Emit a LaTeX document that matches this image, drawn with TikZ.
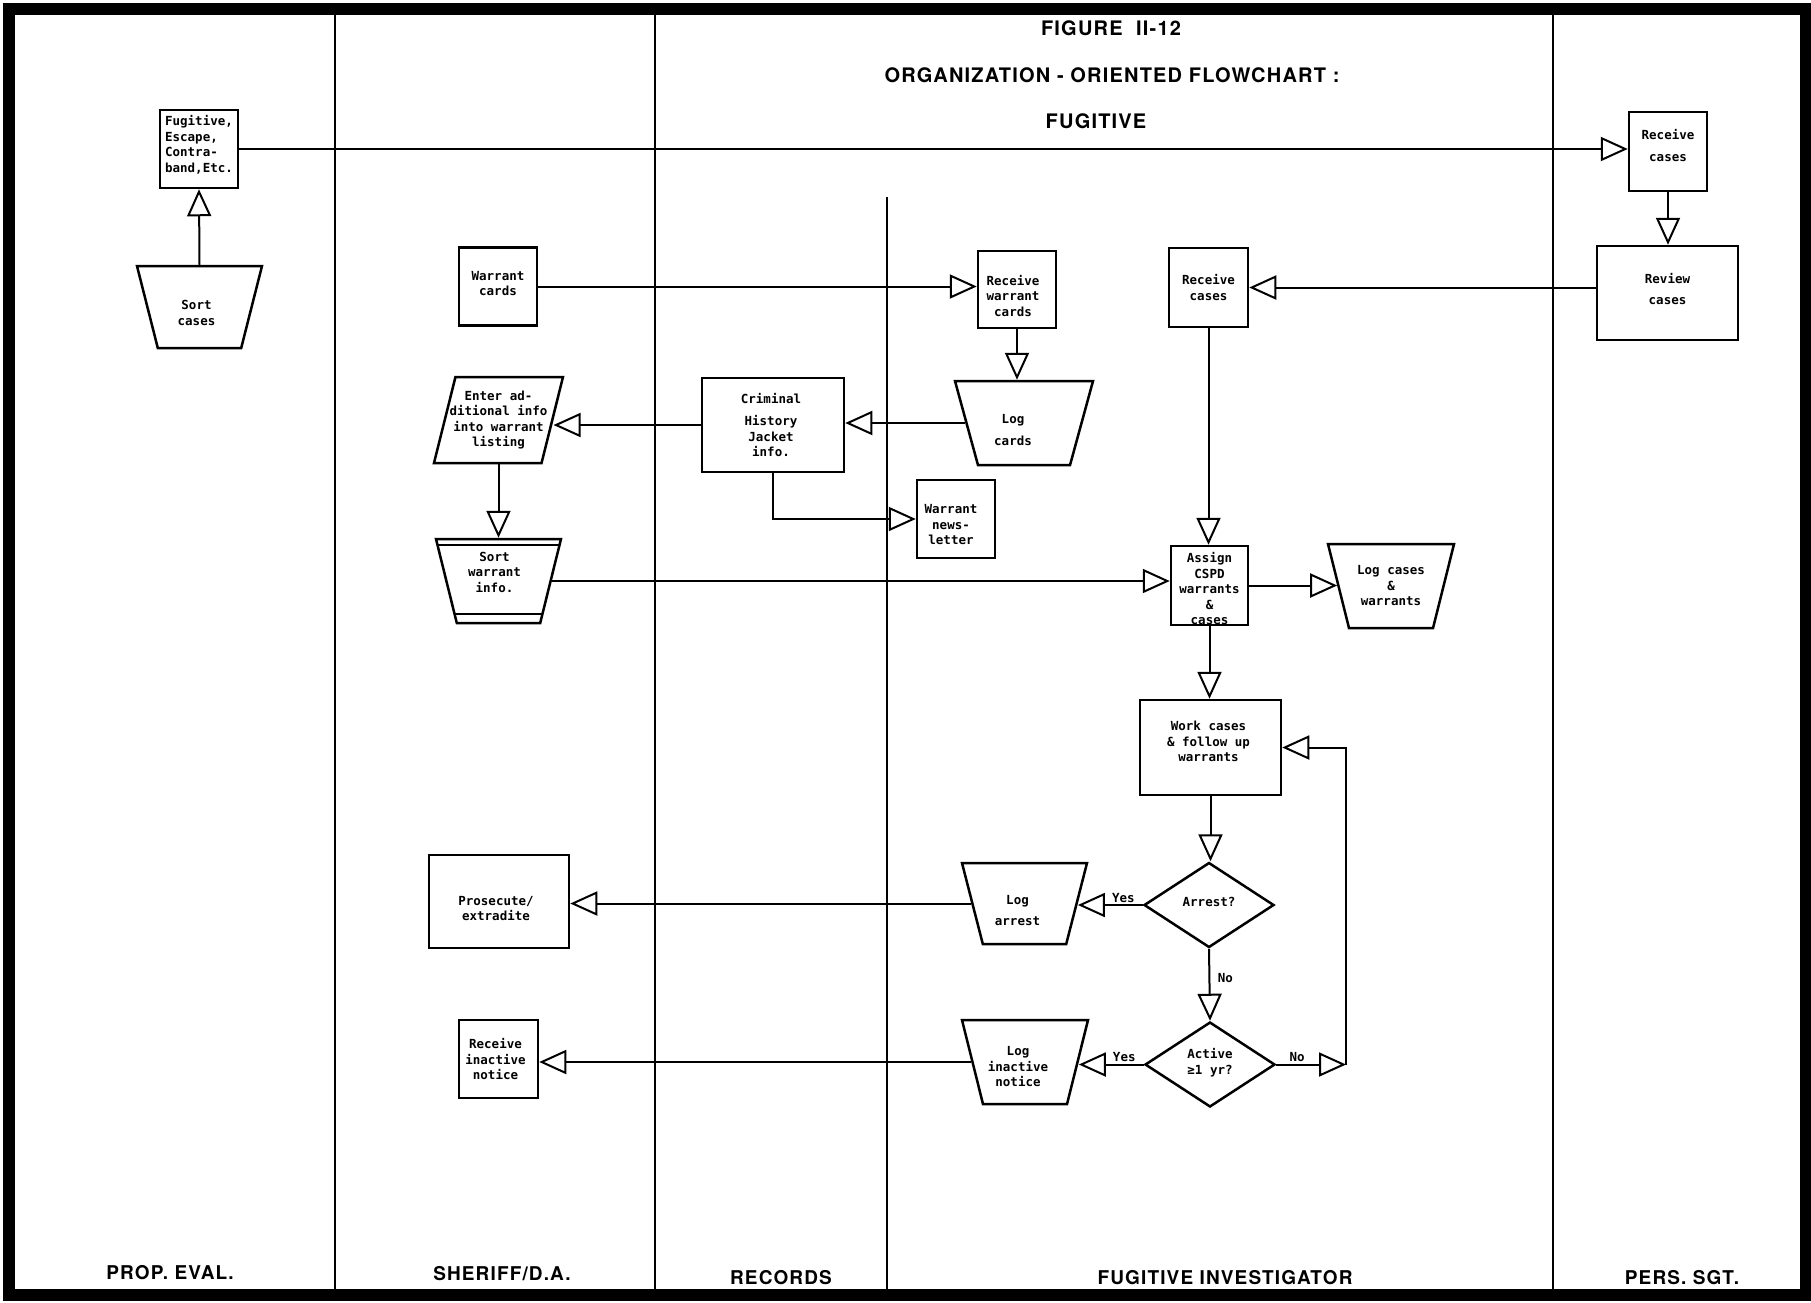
\documentclass[tikz,border=0pt]{standalone}
\usepackage{fontspec}
\newfontfamily\monof{DejaVu Sans Mono}
\newfontfamily\headf[LetterSpace=6]{TeX Gyre Heros}
\usetikzlibrary{arrows.meta,shapes.geometric}
\tikzset{
  txt/.style={font=\monof\bfseries\fontsize{12.5}{15.5}\selectfont},
  lt/.style={txt, align=center, inner sep=0pt},
  box/.style={draw, line width=2.5, rectangle, inner sep=3pt},
  manual/.style={draw, line width=2.5, trapezium, trapezium angle=76,
    shape border rotate=180, trapezium stretches=true, inner sep=3pt},
  para/.style={draw, line width=2.5, trapezium, trapezium left angle=76,
    trapezium right angle=104, trapezium stretches=true, inner sep=3pt},
  dec/.style={draw, line width=2.5, diamond, minimum width=130, minimum height=85,
    inner sep=3pt},
  arr/.style={line width=2, -{Triangle[fill=white,length=27,width=24,line width=2]}},
  lane/.style={line width=2},
  frame/.style={line width=12},
  lab/.style={txt, inner sep=1.5pt},
  head/.style={font=\headf\bfseries\fontsize{20}{24}\selectfont, anchor=base, inner sep=0pt},
  lanelab/.style={font=\headf\bfseries\fontsize{19}{23}\selectfont, anchor=base, inner sep=0pt},
}
\begin{document}
\begin{tikzpicture}[x=1pt,y=-1pt]
\useasboundingbox (0,0) rectangle (1811,1302);
% lanes
\draw[lane] (335,9) -- (335,1293);
\draw[lane] (655,9) -- (655,1293);
\draw[lane] (887,197) -- (887,1293);
\draw[lane] (1553,9) -- (1553,1293);
\draw[frame] (9,9) rectangle (1806,1294.5);

% titles
\node[head] (t1) at (1111,35) {FIGURE~~II-12};
\node[head] (t2) at (1112,82) {ORGANIZATION - ORIENTED FLOWCHART :};
\node[head] (t3) at (1096,128) {FUGITIVE};
\node[lanelab] (l1) at (170,1279) {PROP. EVAL.};
\node[lanelab] (l2) at (502,1280) {SHERIFF/D.A.};
\node[lanelab] (l3) at (781,1284) {RECORDS};
\node[lanelab] (l4) at (1225,1284) {FUGITIVE INVESTIGATOR};
\node[lanelab] (l5) at (1682,1284) {PERS. SGT.};

% nodes
\node[box, minimum width=78, minimum height=78,
  label={[lt, align=left, yshift=4]center:{Fugitive,\\Escape,\\Contra-\\band,Etc.}}] (fug) at (199,149) {};
\node[manual, minimum width=125, minimum height=82,
  label={[lt, xshift=-3, yshift=-6]center:{Sort\\cases}}] (sortc) at (199.5,307) {};
\node[box, minimum width=78, minimum height=79,
  label={[lt, yshift=6]center:{Receive\\[6pt]cases}}] (rcp) at (1668,151.5) {};
\node[box, minimum width=141, minimum height=94,
  label={[lt, yshift=4]center:{Review\\[6pt]cases}}] (rev) at (1667.5,293) {};
\node[box, minimum width=79, minimum height=79,
  label={[lt]center:{Receive\\cases}}] (rcf) at (1208.5,287.5) {};
\node[box, minimum width=78, minimum height=78,
  label={[lt, yshift=3]center:{Warrant\\cards}}] (wc) at (498,286.5) {};
\node[box, minimum width=78, minimum height=77,
  label={[lt, xshift=-4, yshift=-6]center:{Receive\\warrant\\cards}}] (rwc) at (1017,289.5) {};
\node[manual, minimum width=138, minimum height=84,
  label={[lt, xshift=-11, yshift=-7]center:{Log\\[6pt]cards}}] (logc) at (1024,423) {};
\node[box, minimum width=142, minimum height=94,
  label={[lt, xshift=-2]center:{Criminal\\[7pt]History\\Jacket\\info.}}] (crim) at (773,425) {};
\node[para, minimum width=129, minimum height=86,
  label={[lt]center:{Enter ad-\\ditional info\\into warrant\\listing}}] (enter) at (498.5,420) {};
\node[box, minimum width=78, minimum height=78,
  label={[lt, xshift=-5, yshift=-6]center:{Warrant\\news-\\letter}}] (news) at (956,519) {};
\node[manual, minimum width=125, minimum height=84,
  label={[lt, xshift=-4, yshift=9]center:{Sort\\warrant\\info.}}] (sw) at (498.5,581) {};
\node[box, minimum width=77, minimum height=79,
  label={[lt, yshift=-3]center:{Assign\\CSPD\\warrants\\\&\\cases}}] (asg) at (1209.5,585.5) {};
\node[manual, minimum width=126, minimum height=84,
  label={[lt]center:{Log cases\\\&\\warrants}}] (lcw) at (1391,586) {};
\node[box, minimum width=141, minimum height=95,
  label={[lt, xshift=-2, yshift=6]center:{Work cases\\\& follow up\\warrants}}] (work) at (1210.5,747.5) {};
\node[dec, label={[lt, yshift=3]center:{Arrest?}}] (arrest) at (1209,905) {};
\node[manual, minimum width=125, minimum height=81,
  label={[lt, xshift=-7, yshift=-7]center:{Log\\[6pt]arrest}}] (logarr) at (1024.5,903.5) {};
\node[box, minimum width=140, minimum height=93,
  label={[lt, xshift=-3, yshift=-7]center:{Prosecute/\\extradite}}] (pros) at (499,901.5) {};
\node[dec, label={[lt, yshift=2]center:{Active\\≥1 yr?}}] (active) at (1210,1064.5) {};
\node[manual, minimum width=126, minimum height=84,
  label={[lt, xshift=-7, yshift=-5]center:{Log\\inactive\\notice}}] (loginact) at (1025,1062) {};
\node[box, minimum width=79, minimum height=78,
  label={[lt, xshift=-3]center:{Receive\\inactive\\notice}}] (rin) at (498.5,1059) {};

% extra lines in sort warrant info.
\draw[line width=2] (437.4,545) -- (559.6,545);
\draw[line width=2] (453.9,614) -- (543.1,614);

% connectors
\draw[arr] (sortc.north) -- (fug.south);
\draw[arr] (fug.east) -- (fug.east -| rcp.west);
\draw[arr] (rcp.south) -- (rcp.south |- rev.north);
\draw[arr] (rev.west |- rcf.east) -- (rcf.east);
\draw[arr] (wc.east) -- (wc.east -| rwc.west);
\draw[arr] (rwc.south) -- (rwc.south |- logc.north);
\draw[arr] (logc.west) -- (logc.west -| crim.east);
\draw[arr] (crim.west) -- (crim.west -| enter.east);
\draw[arr] (crim.south) |- (news.west);
\draw[arr] (enter.south) -- (enter.south |- sw.north);
\draw[arr] (sw.east) -- (sw.east -| asg.west);
\draw[arr] (rcf.south) -- (rcf.south |- asg.north);
\draw[arr] (asg.east) -- (asg.east -| lcw.west);
\draw[arr] (asg.south) -- (asg.south |- work.north);
\draw[arr] (work.south) -- (work.south |- arrest.north);
\draw[arr] (arrest.west) -- node[lab, above, pos=0.3] (y1) {Yes} (arrest.west -| logarr.east);
\draw[arr] (logarr.west) -- (logarr.west -| pros.east);
\draw[arr] (arrest.south) -- node[lab, right, pos=0.4, xshift=6] (n1) {No} (active.north);
\draw[arr] (active.west) -- node[lab, above, pos=0.3] (y2) {Yes} (active.west -| loginact.east);
\draw[arr] (loginact.west) -- (loginact.west -| rin.east);
\coordinate (lp) at (1346,1064.5);
\draw[arr] (active.east) -- node[lab, above, pos=0.3] (n2) {No} (lp);
\draw[arr] (lp) |- (work.east);
\end{tikzpicture}
\end{document}
